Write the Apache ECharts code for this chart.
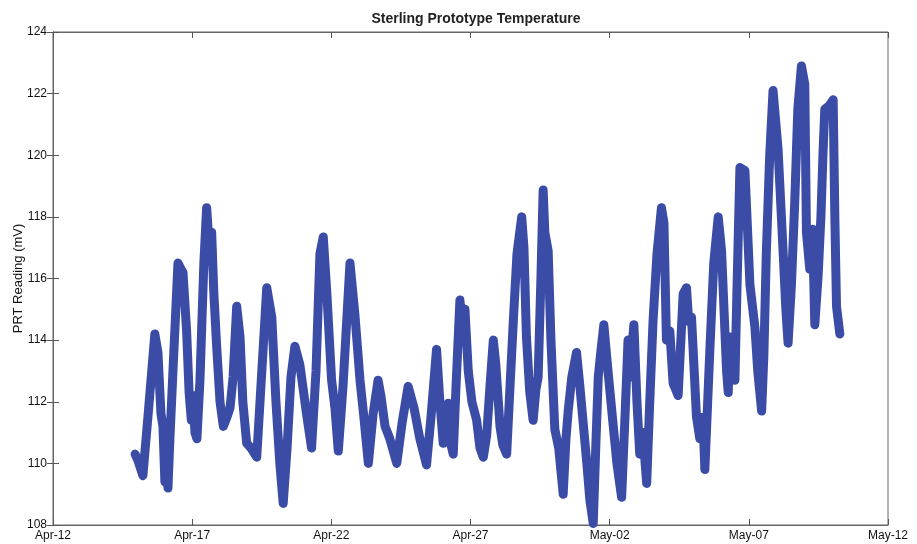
<html>
<head>
<meta charset="UTF-8"/>
<title>Sterling Prototype Temperature</title>
<script src="https://cdn.jsdelivr.net/npm/echarts@6/dist/echarts.min.js"></script>
<style>
  body { margin: 0; background: #fff; }
  #chart { width: 917px; height: 544px; }
</style>
</head>
<body>
<div id="chart"></div>
<script>
// days since Apr-12
var days = [2.95,3.05,3.23,3.41,3.66,3.77,3.88,3.95,4.02,4.08,4.13,4.20,4.31,4.49,4.60,4.67,4.80,4.89,4.97,5.03,
  5.10,5.17,5.28,5.42,5.52,5.60,5.70,5.78,5.88,6.00,6.12,6.25,6.36,6.47,6.60,6.72,6.82,6.96,7.11,7.32,
  7.47,7.68,7.86,8.01,8.15,8.27,8.41,8.55,8.69,8.87,9.11,9.29,9.45,9.59,9.71,9.84,10.01,10.13,10.25,10.42,
  10.67,10.85,11.03,11.17,11.33,11.50,11.68,11.78,11.93,12.10,12.35,12.54,12.76,12.97,13.18,13.42,13.58,13.78,13.90,14.02,
  14.12,14.20,14.30,14.38,14.48,14.62,14.71,14.80,14.92,15.05,15.22,15.34,15.46,15.58,15.70,15.82,15.91,16.06,16.16,16.30,
  16.42,16.54,16.67,16.84,16.92,17.01,17.13,17.25,17.35,17.43,17.53,17.61,17.67,17.79,17.89,18.03,18.17,18.33,18.43,18.51,
  18.64,18.81,18.93,19.05,19.18,19.29,19.41,19.50,19.59,19.68,19.79,19.94,20.13,20.26,20.43,20.55,20.66,20.72,20.87,20.98,
  21.08,21.19,21.33,21.44,21.56,21.70,21.86,21.95,22.04,22.16,22.28,22.46,22.64,22.76,22.84,22.94,23.12,23.24,23.35,23.42,
  23.60,23.74,23.90,24.02,24.20,24.26,24.32,24.42,24.50,24.57,24.68,24.86,25.04,25.22,25.32,25.46,25.54,25.63,25.75,25.87,
  26.05,26.23,26.33,26.41,26.53,26.65,26.76,26.89,27.01,27.07,27.19,27.29,27.37,27.49,27.59,27.67,27.73,27.88,28.03,28.09,
  28.15,28.27];
var prt = [110.3,110.1,109.6,111.5,114.2,113.6,111.6,111.2,109.4,111.0,109.2,110.8,113.0,116.5,116.3,116.2,114.3,112.3,111.4,112.2,
  111.0,110.8,112.7,116.5,118.3,117.2,117.5,115.5,113.8,112.0,111.2,111.5,111.8,112.8,115.1,114.1,112.0,110.65,110.5,110.2,
  112.5,115.7,114.75,112.0,110.0,108.7,110.5,112.8,113.8,113.2,111.6,110.5,113.0,116.8,117.35,115.5,112.7,111.8,110.4,112.5,
  116.5,114.8,112.7,111.5,110.0,111.6,112.7,112.2,111.2,110.8,110.0,111.3,112.5,111.8,110.8,109.95,111.5,113.7,112.0,110.65,
  111.2,111.95,110.6,110.3,112.5,115.3,114.4,115.0,113.0,112.0,111.4,110.5,110.2,110.9,112.5,114.0,113.2,111.2,110.6,110.3,
  112.5,114.65,116.8,118.0,117.0,114.1,112.3,111.4,112.4,112.8,116.0,118.87,117.5,116.9,114.0,111.1,110.5,109.0,110.8,111.7,
  112.8,113.6,112.5,111.3,110.0,108.8,108.05,110.5,112.8,113.6,114.5,113.0,111.2,110.0,108.9,111.5,114.0,112.8,114.5,112.0,
  110.3,111.0,109.35,112.0,114.65,116.8,118.3,117.8,114.0,114.3,112.6,112.2,115.5,115.7,114.6,114.75,111.5,110.8,111.5,109.8,
  113.7,116.5,118.0,116.9,113.0,112.3,114.1,113.5,112.7,115.5,119.6,119.5,115.8,114.4,113.0,111.7,113.5,116.9,120.0,122.1,
  120.2,116.9,115.0,113.9,115.8,118.5,121.5,122.9,122.3,117.5,116.3,117.6,114.5,116.1,118.0,120.2,121.5,121.6,121.8,118.0,
  115.1,114.2];
var xLabels = ["Apr-12", "Apr-17", "Apr-22", "Apr-27", "May-02", "May-07", "May-12"];
var yTicks = [108, 110, 112, 114, 116, 118, 120, 122, 124];

var chart = echarts.init(document.getElementById("chart"));
var pts = days.map(function(d, i){ return [d, prt[i]]; });
var tickStyle = { show: true, inside: true, length: 6, lineStyle: { color: "#555" } };
var lineStyle = { show: true, lineStyle: { color: "#666", width: 1 } };

chart.setOption({
  animation: false,
  title: {
    text: "Sterling Prototype Temperature",
    left: 471, top: 7, textAlign: "center",
    textStyle: { fontFamily: "Liberation Sans", fontSize: 14, fontWeight: "bold", color: "#222" }
  },
  grid: { left: 53, right: 29, top: 32, bottom: 19, outerBoundsMode: "none", containLabel: false,
    show: true, borderColor: "#666", borderWidth: 1 },
  xAxis: [{
    type: "value", min: 0, max: 30, interval: 5,
    axisLine: lineStyle, axisTick: tickStyle, splitLine: { show: false },
    axisLabel: {
      color: "#111", fontFamily: "Liberation Sans", fontSize: 12, margin: 5,
      formatter: function(v){ return xLabels[Math.round(v / 5)]; }
    }
  }, {
    type: "value", min: 0, max: 30, interval: 5, position: "top",
    axisLine: lineStyle, axisTick: tickStyle, axisLabel: { show: false }, splitLine: { show: false }
  }],
  yAxis: [{
    type: "value", min: yTicks[0], max: yTicks[yTicks.length - 1], interval: 2,
    name: "PRT Reading (mV)", nameLocation: "middle", nameGap: 35, nameRotate: 90, nameMoveOverlap: false,
    nameTextStyle: { color: "#111", fontFamily: "Liberation Sans", fontSize: 13, verticalAlign: "middle" },
    axisLine: lineStyle, axisTick: tickStyle, splitLine: { show: false },
    axisLabel: { color: "#111", fontFamily: "Liberation Sans", fontSize: 12, margin: 6 }
  }, {
    type: "value", min: yTicks[0], max: yTicks[yTicks.length - 1], interval: 2, position: "right",
    axisLine: lineStyle, axisTick: tickStyle, axisLabel: { show: false }, splitLine: { show: false }
  }],
  series: [{
    type: "line",
    data: pts,
    showSymbol: false,
    clip: false,
    lineStyle: { color: "#3a4ca6", width: 9, cap: "round", join: "round" }
  }]
});
</script>
</body>
</html>
